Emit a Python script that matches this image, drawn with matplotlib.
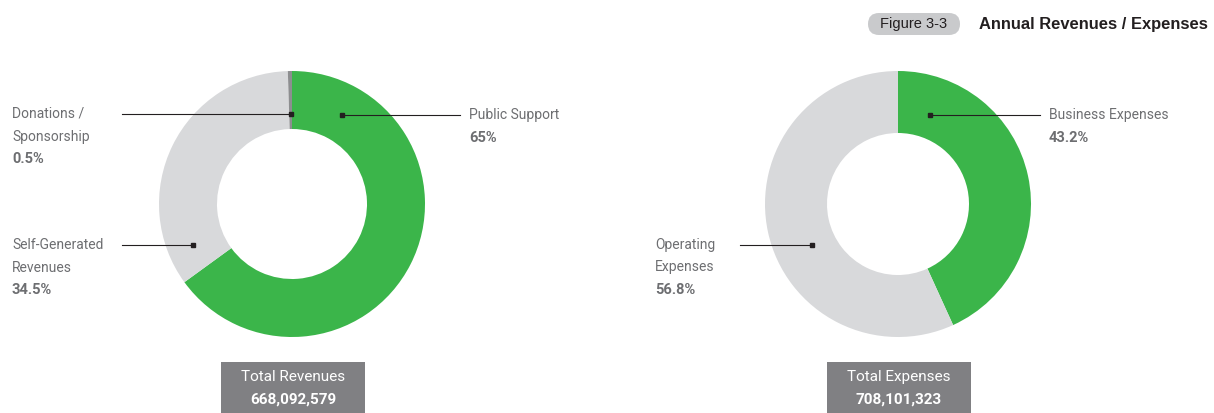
import matplotlib.pyplot as plt
from matplotlib.patches import FancyBboxPatch, Rectangle

plt.rcParams['font.family'] = ['Roboto', 'DejaVu Sans']

# data
rev_labels = ['Public Support', 'Self-Generated\nRevenues', 'Donations /\nSponsorship']
rev_values = [65.0, 34.5, 0.5]
exp_labels = ['Business Expenses', 'Operating\nExpenses']
exp_values = [43.2, 56.8]
total_rev = '668,092,579'
total_exp = '708,101,323'

green = '#3bb54a'
light = '#d8d9db'
dark = '#8d8e90'
txt = '#6d6e71'

W, H = 1214, 413
fig = plt.figure(figsize=(W / 100, H / 100), dpi=100)
ax = fig.add_axes([0, 0, 1, 1])


def Y(y):
    # pixel row -> axes y
    return H - y


def donut(cx, cy, r, width, values, colors):
    ax.pie(values, colors=colors, center=(cx, Y(cy)), radius=r, startangle=90,
           counterclock=False, wedgeprops=dict(width=width, linewidth=0),
           frame=True)


donut(292, 204, 133, 58, rev_values, [green, light, dark])
donut(898, 204, 133, 62, exp_values, [green, light])
ax.set_xlim(0, W)
ax.set_ylim(0, H)
ax.set_aspect('equal')
ax.axis('off')


def callout(x0, x1, y, dot_x, tx, lines, pct):
    ax.plot([x0, x1], [Y(y), Y(y)], color='#231f20', lw=0.8, zorder=5)
    ax.plot([dot_x], [Y(y)], marker='s', ms=2.5, color='#231f20', zorder=6)
    yy = y
    for ln in lines.split('\n'):
        ax.text(tx, Y(yy), ln, fontsize=10, color=txt, va='center', ha='left')
        yy += 22.5
    ax.text(tx, Y(yy), pct, fontsize=10.5, color=txt, va='center', ha='left',
            fontweight='bold')


callout(342, 460, 115, 342, 469, rev_labels[0], '65%')
callout(122, 291, 114, 291, 12, rev_labels[2], '0.5%')
callout(122, 193, 245, 193, 12, rev_labels[1], '34.5%')
callout(930, 1040, 115, 930, 1049, exp_labels[0], '43.2%')
callout(740, 812, 245, 812, 655, exp_labels[1], '56.8%')


def total_box(x0, x1, title, value):
    ax.add_patch(Rectangle((x0, Y(413)), x1 - x0, 51, color='#808083', lw=0))
    xc = (x0 + x1) / 2
    ax.text(xc, Y(377), title, color='white', fontsize=11, ha='center', va='center')
    ax.text(xc, Y(400), value, color='white', fontsize=11, ha='center', va='center',
            fontweight='bold')


total_box(221, 365, 'Total Revenues', total_rev)
total_box(827, 971, 'Total Expenses', total_exp)

# header
ax.add_patch(FancyBboxPatch((868, Y(35)), 92, 22,
                            boxstyle='round,pad=0,rounding_size=11',
                            color='#c9cacc', lw=0))
ax.text(914, Y(24), 'Figure 3-3', fontsize=10.5, color='#231f20', ha='center',
        va='center', family=['Liberation Sans', 'DejaVu Sans'])
ax.text(979, Y(24), 'Annual Revenues / Expenses', fontsize=11.9, color='#231f20',
        ha='left', va='center', fontweight='bold',
        family=['Liberation Sans', 'DejaVu Sans'])

fig.savefig('out.png', dpi=100)
